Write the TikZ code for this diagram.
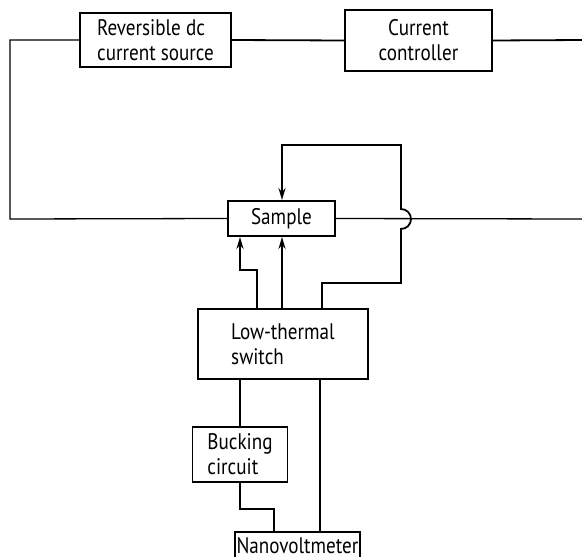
\documentclass[tikz,border=0pt]{standalone}
\usepackage{fontspec}
\setmainfont{PT Sans}[FakeStretch=0.85]
\usetikzlibrary{arrows.meta}
\begin{document}
\begin{tikzpicture}[x=1pt,y=-1pt,
  box/.style={draw, line width=1.9pt, rectangle, inner sep=0pt,
    font=\fontsize{22.5}{25}\selectfont},
  wire/.style={line width=1.8pt},
  thinwire/.style={line width=1.3pt},
  arr/.style={wire, -{Stealth[length=12pt,width=7pt]}}]
\useasboundingbox (0,0) rectangle (582,557);
\clip (0,0) rectangle (582,557);
% boxes
\node[box, minimum width=151pt, minimum height=54pt, align=left] (rev) at (155.5,40) {Reversible dc\\current source};
\node[box, minimum width=147pt, minimum height=61pt, align=center] (ctrl) at (418.5,40.5) {Current\\controller};
\node[box, minimum width=107pt, minimum height=35pt] (sample) at (281.5,218.5) {Sample};
\node[box, minimum width=170pt, minimum height=70pt, align=left] (switch) at (283,344) {Low-thermal\\switch};
\node[box, minimum width=95pt, minimum height=55pt, align=left] (buck) at (240,454.5) {Bucking\\circuit};
\node[box, minimum width=125pt, minimum height=27pt, anchor=north] (nano) at (297.5,531) {Nanovoltmeter};
% coordinates
\coordinate (tl) at (10,40);
\coordinate (bl) at (10,219);
\coordinate (tr) at (582,40);
\coordinate (br) at (582,219);
% main current loop
\draw[thinwire] (rev.west) -- (tl) -- (bl) -- (sample.west);
\draw[wire] (rev.east) -- (ctrl.west);
\draw[wire] (ctrl.east) -- (tr);
\draw[thinwire] (sample.east) -- (br);
% feedback to top of sample (with hop)
\draw[arr] (switch.north -| 322,0) -- (322,283) -- (401,283) -- (401,229)
  arc[start angle=90, end angle=-90, radius=10] -- (401,145) -- (282,145) -- (sample.north -| 282,0);
% arrows to bottom of sample
\draw[arr] (switch.north -| 257,0) -- (257,270) -- (240,270) -- (sample.south -| 240,0);
\draw[arr] (switch.north -| 282,0) -- (sample.south -| 282,0);
% below switch
\draw[wire] (switch.south -| buck.north) -- (buck.north);
\draw[wire] (switch.south -| 320,0) -- (nano.north -| 320,0);
\draw[wire] (buck.south) -- (240,509) -- (274,509) -- (nano.north -| 274,0);
\end{tikzpicture}
\end{document}
